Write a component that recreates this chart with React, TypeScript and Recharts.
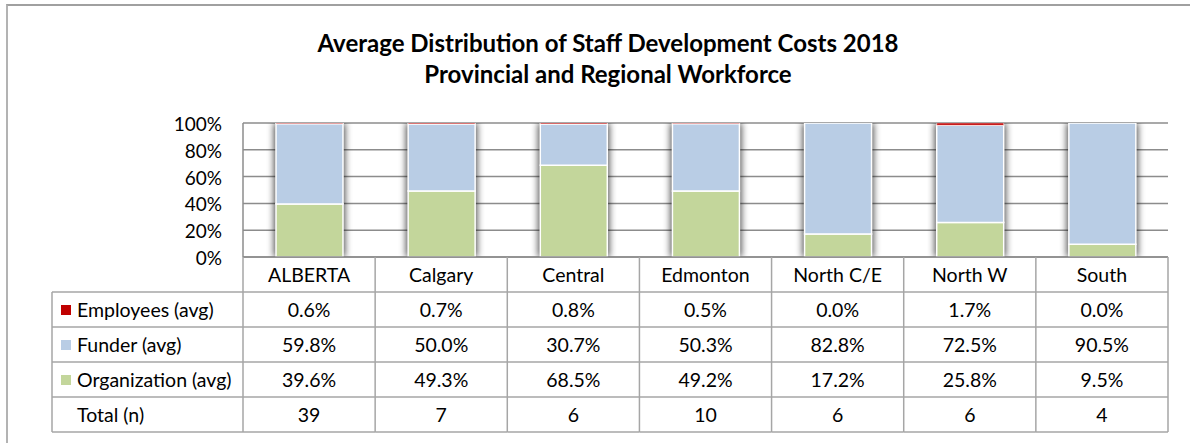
import React from 'react';
import { BarChart, Bar, XAxis, YAxis, CartesianGrid } from 'recharts';

const categories = ['ALBERTA', 'Calgary', 'Central', 'Edmonton', 'North C/E', 'North W', 'South'];
const employees = [0.6, 0.7, 0.8, 0.5, 0.0, 1.7, 0.0];
const funder = [59.8, 50.0, 30.7, 50.3, 82.8, 72.5, 90.5];
const organization = [39.6, 49.3, 68.5, 49.2, 17.2, 25.8, 9.5];
const totals = [39, 7, 6, 10, 6, 6, 4];
const yTicks = [0, 20, 40, 60, 80, 100];

const data = categories.map((c, i) => ({
  name: c,
  employees: employees[i],
  funder: funder[i],
  organization: organization[i],
  total: totals[i],
}));

const FONT = 'Lato, "DejaVu Sans", sans-serif';
const W = 1190;
const H = 443;
const PLOT_LEFT = 243;
const PLOT_RIGHT = 1168;
const BAND = (PLOT_RIGHT - PLOT_LEFT) / categories.length;
const ROW = 35;
const LABEL_LEFT = 52;
const BORDER = '#a6a6a6';
const FS = 19.5;
const YFS = 19;

const C_EMP = '#C00000';
const C_FUN = '#B9CDE5';
const C_ORG = '#C3D69B';

const fmt = (v: number) => v.toFixed(1) + '%';

const rows = [
  { label: 'Employees (avg)', color: C_EMP, get: (d: any) => fmt(d.employees) },
  { label: 'Funder (avg)', color: C_FUN, get: (d: any) => fmt(d.funder) },
  { label: 'Organization (avg)', color: C_ORG, get: (d: any) => fmt(d.organization) },
  { label: 'Total (n)', color: null, get: (d: any) => String(d.total) },
];

const TableTick = (props: any) => {
  const { x, y, index, payload } = props;
  const d = data[index] || data.find((r) => r.name === payload.value);
  const left = x - BAND / 2;
  const right = x + BAND / 2;
  const bottom = y + ROW * (rows.length + 1);
  return (
    <g>
      <line x1={right} y1={y} x2={right} y2={bottom} stroke={BORDER} strokeWidth={1.5} />
      {index === 0 && (
        <line x1={left} y1={y} x2={left} y2={bottom} stroke={BORDER} strokeWidth={1.5} />
      )}
      <text x={x} y={y + ROW / 2 + 7} textAnchor="middle" fontFamily={FONT} fontSize={FS} fill="#000">
        {payload.value}
      </text>
      {rows.map((r, ri) => {
        const ry = y + ROW * (ri + 1);
        return (
          <g key={ri}>
            <line x1={left} y1={ry} x2={right} y2={ry} stroke={BORDER} strokeWidth={1.5} />
            <text x={x} y={ry + ROW / 2 + 7} textAnchor="middle" fontFamily={FONT} fontSize={FS} fill="#000">
              {r.get(d)}
            </text>
            {index === 0 && (
              <g>
                <line x1={LABEL_LEFT} y1={ry} x2={left} y2={ry} stroke={BORDER} strokeWidth={1.5} />
                <line x1={LABEL_LEFT} y1={ry} x2={LABEL_LEFT} y2={ry + ROW} stroke={BORDER} strokeWidth={1.5} />
                {r.color && <rect x={61} y={ry + 13} width={10} height={10} fill={r.color} />}
                <text x={77} y={ry + ROW / 2 + 7} fontFamily={FONT} fontSize={FS} fill="#000">
                  {r.label}
                </text>
              </g>
            )}
          </g>
        );
      })}
      <line x1={index === 0 ? LABEL_LEFT : left} y1={bottom} x2={right} y2={bottom} stroke={BORDER} strokeWidth={1.5} />
    </g>
  );
};

const YTick = (props: any) => {
  const { y, payload } = props;
  return (
    <text x={222} y={y + 8} textAnchor="end" fontFamily={FONT} fontSize={YFS} fill="#000">
      {payload.value + '%'}
    </text>
  );
};

const OrgShape = (props: any) => {
  const { x, y, width, height, fill, background } = props;
  const top = background ? background.y : y;
  const bot = background ? background.y + background.height : y + height;
  return (
    <g>
      <defs>
        <filter id="barShadow" x="-50%" y="-10%" width="200%" height="120%">
          <feGaussianBlur stdDeviation="3.5" />
        </filter>
      </defs>
      <rect x={x - 2} y={top} width={width + 4} height={bot - top} fill="#000" opacity={0.7} filter="url(#barShadow)" />
      <rect x={x} y={y} width={width} height={height} fill={fill} stroke="#fff" strokeWidth={1.5} />
    </g>
  );
};

export default function App() {
  return (
    <div style={{ position: 'absolute', left: 0, top: 0, width: W, height: H, background: '#fff', overflow: 'hidden' }}>
      <div
        style={{
          position: 'absolute',
          left: 6,
          top: 4,
          width: W,
          height: H,
          borderLeft: '2px solid #b3b3b3',
          borderTop: '2px solid #a0a0a0',
        }}
      />
      <div
        style={{
          position: 'absolute',
          left: 0,
          width: 1216,
          top: 27,
          textAlign: 'center',
          fontFamily: FONT,
          fontWeight: 'bold',
          fontSize: 24,
          lineHeight: '31px',
          color: '#000',
        }}
      >
        <div>Average Distribution of Staff Development Costs 2018</div>
        <div>Provincial and Regional Workforce</div>
      </div>
      <div style={{ position: 'absolute', left: 0, top: 0 }}>
        <BarChart
          width={W}
          height={H}
          data={data}
          margin={{ top: 123, right: W - PLOT_RIGHT, bottom: 11, left: 0 }}
          barSize={67}
        >
          <CartesianGrid vertical={false} stroke="#8c8c8c" strokeWidth={1.5} />
          <XAxis
            dataKey="name"
            height={ROW * 5}
            tickSize={0}
            tickMargin={0}
            tickLine={false}
            axisLine={{ stroke: '#8c8c8c', strokeWidth: 1.5 }}
            tick={<TableTick />}
            interval={0}
          />
          <YAxis
            width={PLOT_LEFT}
            domain={[0, 100]}
            ticks={yTicks}
            tickLine={false}
            axisLine={{ stroke: '#8c8c8c', strokeWidth: 1.5 }}
            tick={<YTick />}
            allowDataOverflow
          />
          <Bar dataKey="organization" stackId="a" fill={C_ORG} shape={<OrgShape />} isAnimationActive={false} />
          <Bar dataKey="funder" stackId="a" fill={C_FUN} stroke="#fff" strokeWidth={1.5} isAnimationActive={false} />
          <Bar dataKey="employees" stackId="a" fill={C_EMP} stroke="#fff" strokeWidth={0.5} isAnimationActive={false} />
        </BarChart>
      </div>
    </div>
  );
}
